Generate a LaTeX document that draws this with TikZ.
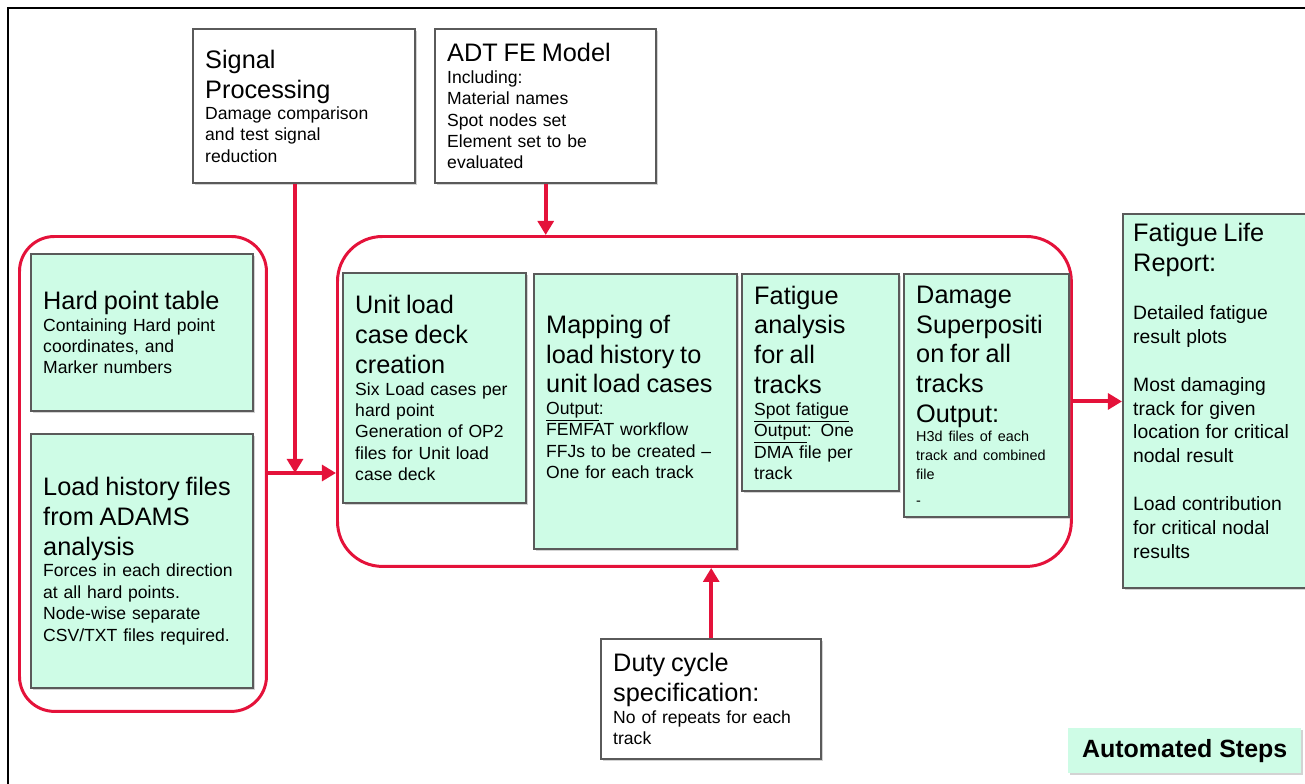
\documentclass[tikz,border=0pt]{standalone}
\usepackage{fontspec}
\setmainfont{Liberation Sans}
\usetikzlibrary{arrows.meta,shadows}

\definecolor{linkred}{RGB}{228,18,58}
\definecolor{mint}{RGB}{206,252,230}
\definecolor{rim}{RGB}{90,90,90}

\newcommand{\boxhead}{\fontsize{14.4}{17}\selectfont}
\newcommand{\boxbody}{\fontsize{10}{12.2}\selectfont}
\newcommand{\boxtiny}{\fontsize{8.2}{10.8}\selectfont}
\newcommand{\reportbody}{\fontsize{11}{13.6}\selectfont}

\tikzset{
  stepbox/.style={draw=rim, line width=1.4pt, fill=mint, anchor=north west,
    align=left, inner xsep=0pt, inner ysep=2pt,
    drop shadow={shadow xshift=1.2pt, shadow yshift=-1.2pt, opacity=0.35}},
  infobox/.style={stepbox, fill=white},
  groupbox/.style={draw=linkred, line width=1.7pt, anchor=north west, rounded corners=#1},
  flow/.style={draw=linkred, line width=2.3pt, -{Triangle[length=8pt,width=9pt]}},
}

\begin{document}
\begin{tikzpicture}[x=0.02cm,y=-0.02cm]
\useasboundingbox (0,0) rectangle (1305,784);
\draw[line width=1.5pt] (8,784) -- (8,8) -- (1305,8);

% groups
\node[groupbox=0.7cm, minimum width=4.94cm, minimum height=9.5cm] (inputs) at (18,235) {};
\node[groupbox=0.9cm, minimum width=14.68cm, minimum height=6.6cm] (autosteps) at (336,235) {};

% inputs from outside
\node[infobox, minimum width=4.44cm, minimum height=3.08cm, text width=3.96cm] (sigp) at (192,28)
  {{\boxhead Signal\\Processing\par}{\boxbody Damage comparison\\and test signal\\reduction\par}};
\node[infobox, minimum width=4.42cm, minimum height=3.08cm, text width=3.94cm] (adt) at (434,28)
  {{\boxhead ADT FE Model\par}{\boxbody Including:\\Material names\\Spot nodes set\\Element set to be\\evaluated\par}};
\node[infobox, minimum width=4.4cm, minimum height=2.4cm, text width=3.92cm] (duty) at (600,638)
  {{\boxhead Duty cycle\\specification:\par}{\boxbody No of repeats for each\\track\par}};

% left group
\node[stepbox, minimum width=4.44cm, minimum height=3.14cm, text width=3.96cm] (hpt) at (30,253)
  {{\boxhead Hard point table\par}{\boxbody Containing Hard point\\coordinates, and\\Marker numbers\par}};
\node[stepbox, minimum width=4.44cm, minimum height=5.08cm, text width=3.96cm] (lhf) at (30,433)
  {{\boxhead Load history files\\from ADAMS\\analysis\par}{\boxbody Forces in each direction\\at all hard points.\\Node-wise separate\\CSV/TXT files required.\par}};

% automated steps
\node[stepbox, minimum width=3.66cm, minimum height=4.6cm, text width=3.18cm] (unit) at (342,272)
  {{\boxhead Unit load\\case deck\\creation\par}{\boxbody Six Load cases per\\hard point\\Generation of OP2\\files for Unit load\\case deck\par}};
\node[stepbox, minimum width=4.06cm, minimum height=5.5cm, text width=3.58cm] (map) at (533,273)
  {{\boxhead Mapping of\\load history to\\unit load cases\par}{\boxbody \underline{Output}:\\FEMFAT workflow\\FFJs to be created --\\One for each track\par}\vspace{5pt}\null};
\node[stepbox, minimum width=3.14cm, minimum height=4.34cm, text width=2.66cm] (fat) at (741,273)
  {{\boxhead Fatigue\\analysis\\for all\\tracks\par}{\boxbody \underline{Spot fatigue}\\\underline{Output}: One\\DMA file per\\track\par}};
\node[stepbox, minimum width=3.3cm, minimum height=4.86cm, text width=2.82cm] (dam) at (903,273)
  {{\boxhead Damage\\Superpositi\\on for all\\tracks\\Output:\par}{\boxtiny H3d files of each\\track and combined\\file\\[4pt]-\par}};

% result
\node[stepbox, minimum width=3.66cm, minimum height=7.48cm, text width=3.26cm] (report) at (1122,213)
  {{\boxhead Fatigue Life\\Report:\par}\vspace{14pt}
   {\reportbody Detailed fatigue\\result plots\\[13.6pt]Most damaging\\track for given\\location for critical\\nodal result\\[13.6pt]Load contribution\\for critical nodal\\results\par}\vspace{0pt}\null};

\node[stepbox, draw=none, align=center, minimum width=4.66cm, minimum height=0.9cm,
  font=\fontsize{14.2}{17}\selectfont\bfseries] (legend) at (1067,727) {Automated Steps};

% connectors
\coordinate (join) at (295,473);
\draw[flow] (sigp.south -| join) -- (join);
\draw[flow] (inputs.east |- join) -- (autosteps.west |- join);
\draw[flow] (adt.south) -- (adt.south |- autosteps.north);
\draw[flow] (autosteps.east) -- (report.west |- autosteps.east);
\draw[flow] (duty.north) -- (duty.north |- autosteps.south);
\end{tikzpicture}
\end{document}
